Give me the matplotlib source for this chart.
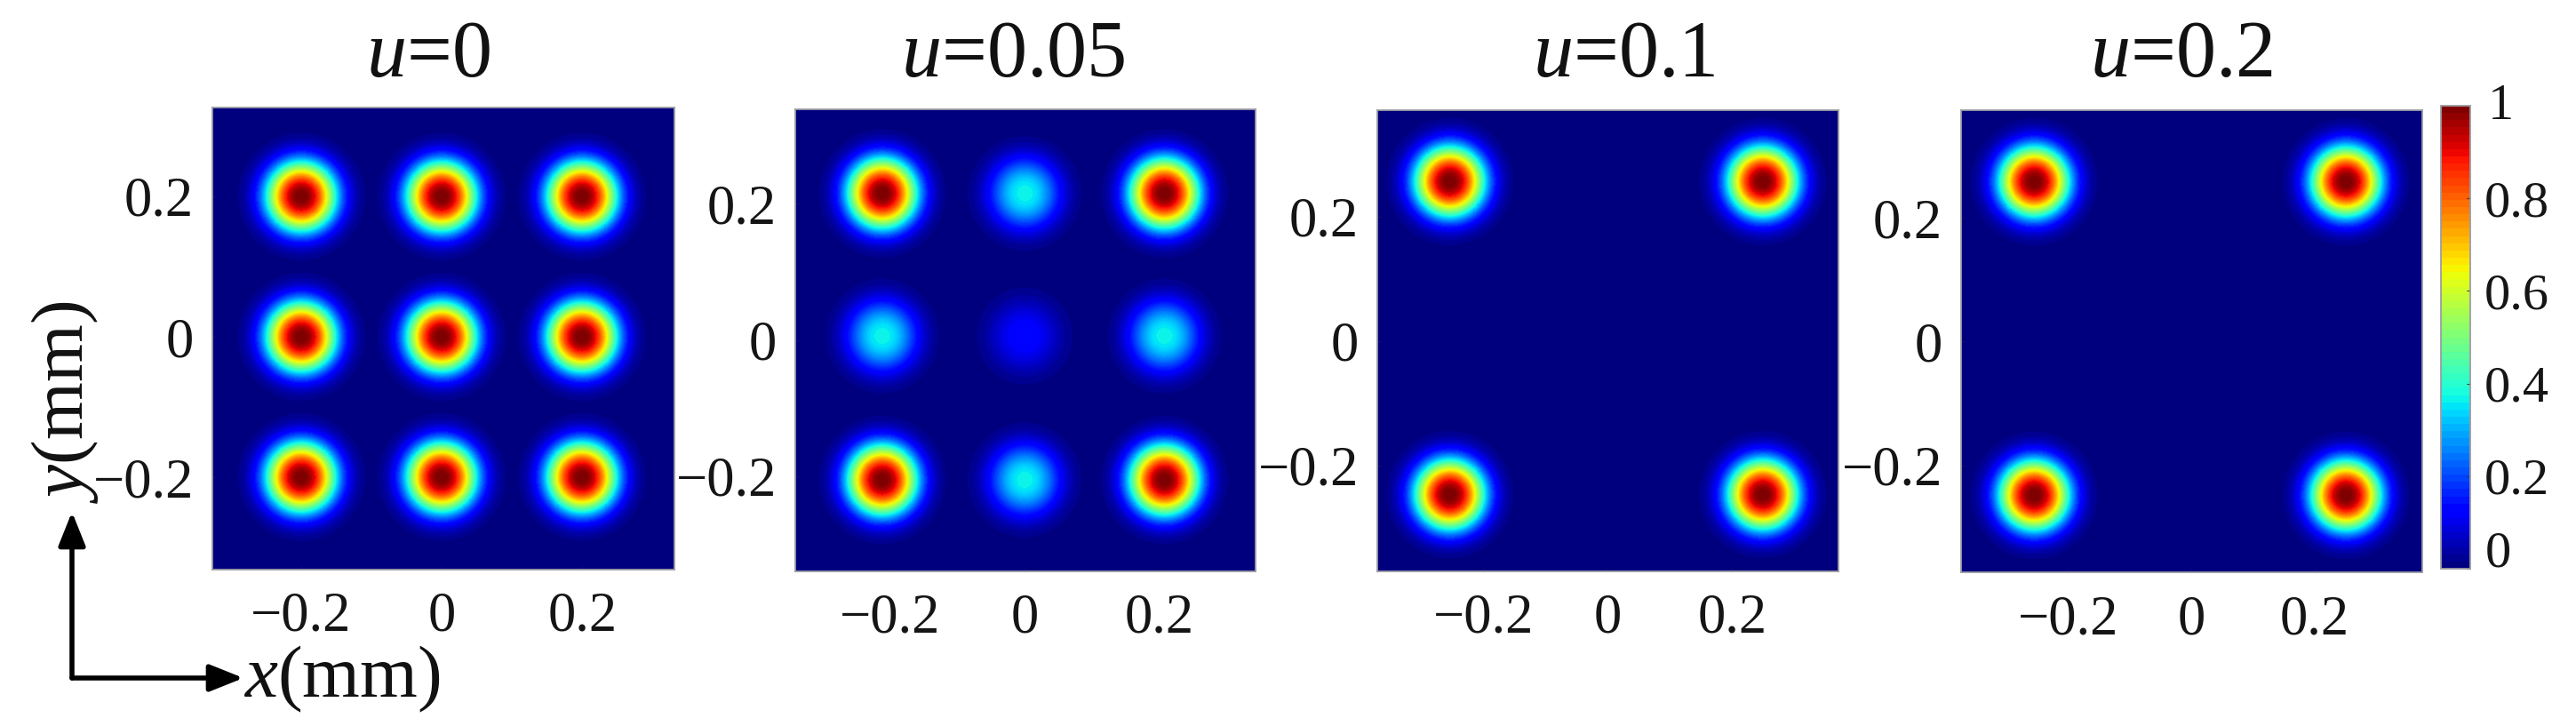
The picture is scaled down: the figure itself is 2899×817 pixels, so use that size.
import numpy as np
import matplotlib
matplotlib.use('Agg')
import matplotlib.pyplot as plt
from matplotlib.patches import FancyArrowPatch

plt.rcParams['font.family'] = ['Liberation Serif', 'DejaVu Serif']
plt.rcParams['mathtext.fontset'] = 'custom'
plt.rcParams['mathtext.rm'] = 'Liberation Serif'
plt.rcParams['mathtext.it'] = 'Liberation Serif:italic'

W, H = 2899, 817

# values
titles = ['$u$=0', '$u$=0.05', '$u$=0.1', '$u$=0.2']
tick_values = [-0.2, 0, 0.2]
tick_labels = ['\u22120.2', '0', '0.2']
cbar_ticks = [0, 0.2, 0.4, 0.6, 0.8, 1]
cbar_labels = ['0', '0.2', '0.4', '0.6', '0.8', '1']

spots_u0_x = [-0.2, 0, 0.2, -0.2, 0, 0.2, -0.2, 0, 0.2]
spots_u0_y = [0.2, 0.2, 0.2, 0, 0, 0, -0.2, -0.2, -0.2]
spots_u0_amp = [1, 1, 1, 1, 1, 1, 1, 1, 1]

spots_u005_x = [-0.212, 0, 0.208, -0.212, 0, 0.208, -0.212, 0, 0.208]
spots_u005_y = [0.216, 0.216, 0.216, 0.006, 0.006, 0.006, -0.206, -0.206, -0.206]
spots_u005_amp = [1, 0.37, 1, 0.37, 0.13, 0.37, 1, 0.37, 1]

spots_u01_x = [-0.254, 0.25, -0.254, 0.25]
spots_u01_y = [0.257, 0.257, -0.247, -0.247]
spots_u01_amp = [1, 1, 1, 1]

spots_u02_x = [-0.255, 0.251, -0.255, 0.251]
spots_u02_y = [0.259, 0.259, -0.249, -0.249]
spots_u02_amp = [1, 1, 1, 1]

spot_width = [0.0499, 0.052, 0.0564, 0.0568]
spot_power = 2.4

# panel layout in pixels: left, top, right, bottom
boxes = [(239, 121, 759, 641), (895, 123, 1413, 643),
         (1550, 124, 2069, 643), (2207, 124, 2726, 644)]
xlims = [(-0.326, 0.331), (-0.341, 0.343), (-0.37, 0.371), (-0.373, 0.374)]
ylims = [(-0.331, 0.326), (-0.34, 0.339), (-0.37, 0.371), (-0.373, 0.374)]
title_x = [482, 1140, 1828, 2455]

spots = [(spots_u0_x, spots_u0_y, spots_u0_amp),
         (spots_u005_x, spots_u005_y, spots_u005_amp),
         (spots_u01_x, spots_u01_y, spots_u01_amp),
         (spots_u02_x, spots_u02_y, spots_u02_amp)]


def fx(px):
    return px / W


def fy(py):
    return 1 - py / H


def add_box(left, top, right, bottom):
    return fig.add_axes([fx(left), fy(bottom), (right - left) / W, (bottom - top) / H])


cmap = plt.get_cmap('jet', 64)
fig = plt.figure(figsize=(W / 100, H / 100), dpi=100)

for i in range(4):
    ax = add_box(*boxes[i])
    xs = np.linspace(xlims[i][0], xlims[i][1], 500)
    ys = np.linspace(ylims[i][0], ylims[i][1], 500)
    xx, yy = np.meshgrid(xs, ys)
    field = np.zeros_like(xx)
    for sx, sy, amp in zip(*spots[i]):
        r = np.hypot(xx - sx, yy - sy)
        field += amp * np.exp(-(r / spot_width[i]) ** spot_power)
    im = ax.imshow(field, origin='lower', cmap=cmap, vmin=0, vmax=1, aspect='auto',
                   extent=[xlims[i][0], xlims[i][1], ylims[i][0], ylims[i][1]],
                   interpolation='bilinear')
    ax.set_xticks(tick_values)
    ax.set_xticklabels(tick_labels)
    ax.set_yticks(tick_values)
    ax.set_yticklabels(tick_labels)
    ax.tick_params(direction='in', length=3, width=0.8, color='#10106a', labelsize=45, labelcolor='#151515')
    ax.tick_params(axis='x', pad=18)
    ax.tick_params(axis='y', pad=15)
    for spine in ax.spines.values():
        spine.set_color('#9c9ca4')
        spine.set_linewidth(1.3)
    fig.text(fx(title_x[i]), fy(86), titles[i], fontsize=65, ha='center', va='baseline', color='#111111')

# colorbar, the end labels sit inside the bar's range
cax = add_box(2747, 119, 2780, 640)
cb = fig.colorbar(im, cax=cax)
cb.set_ticks(cbar_ticks)
cb.set_ticklabels([''] + cbar_labels[1:-1] + [''])
cax.tick_params(direction='in', length=3, width=0.8, labelsize=42, pad=11, color='#333333', labelcolor='#151515')
cb.outline.set_edgecolor('#9c9ca4')
cb.outline.set_linewidth(1.3)
label_x = 1 + 17 / 33
cax.text(label_x, 0.032, cbar_labels[0], transform=cax.get_yaxis_transform(), fontsize=42,
         va='center', ha='left', color='#151515')
cax.text(label_x + 0.1, 0.998, cbar_labels[-1], transform=cax.get_yaxis_transform(), fontsize=42,
         va='center', ha='left', color='#151515')

# axis arrows
for end in [(81, 576), (274, 763)]:
    fig.add_artist(FancyArrowPatch((fx(81), fy(763)), (fx(end[0]), fy(end[1])),
                                   transform=fig.transFigure,
                                   arrowstyle='-|>,head_length=0.55,head_width=0.22', mutation_scale=42,
                                   shrinkA=0, shrinkB=0, lw=4, color='black'))

fig.text(fx(385), fy(784), '$x$(mm)', fontsize=60, ha='center', va='baseline', color='#111111')
fig.text(fx(73), fy(452), '$y$(mm)', fontsize=60, rotation=90, ha='center', va='center', color='#111111')

fig.savefig('out.png', dpi=100)
